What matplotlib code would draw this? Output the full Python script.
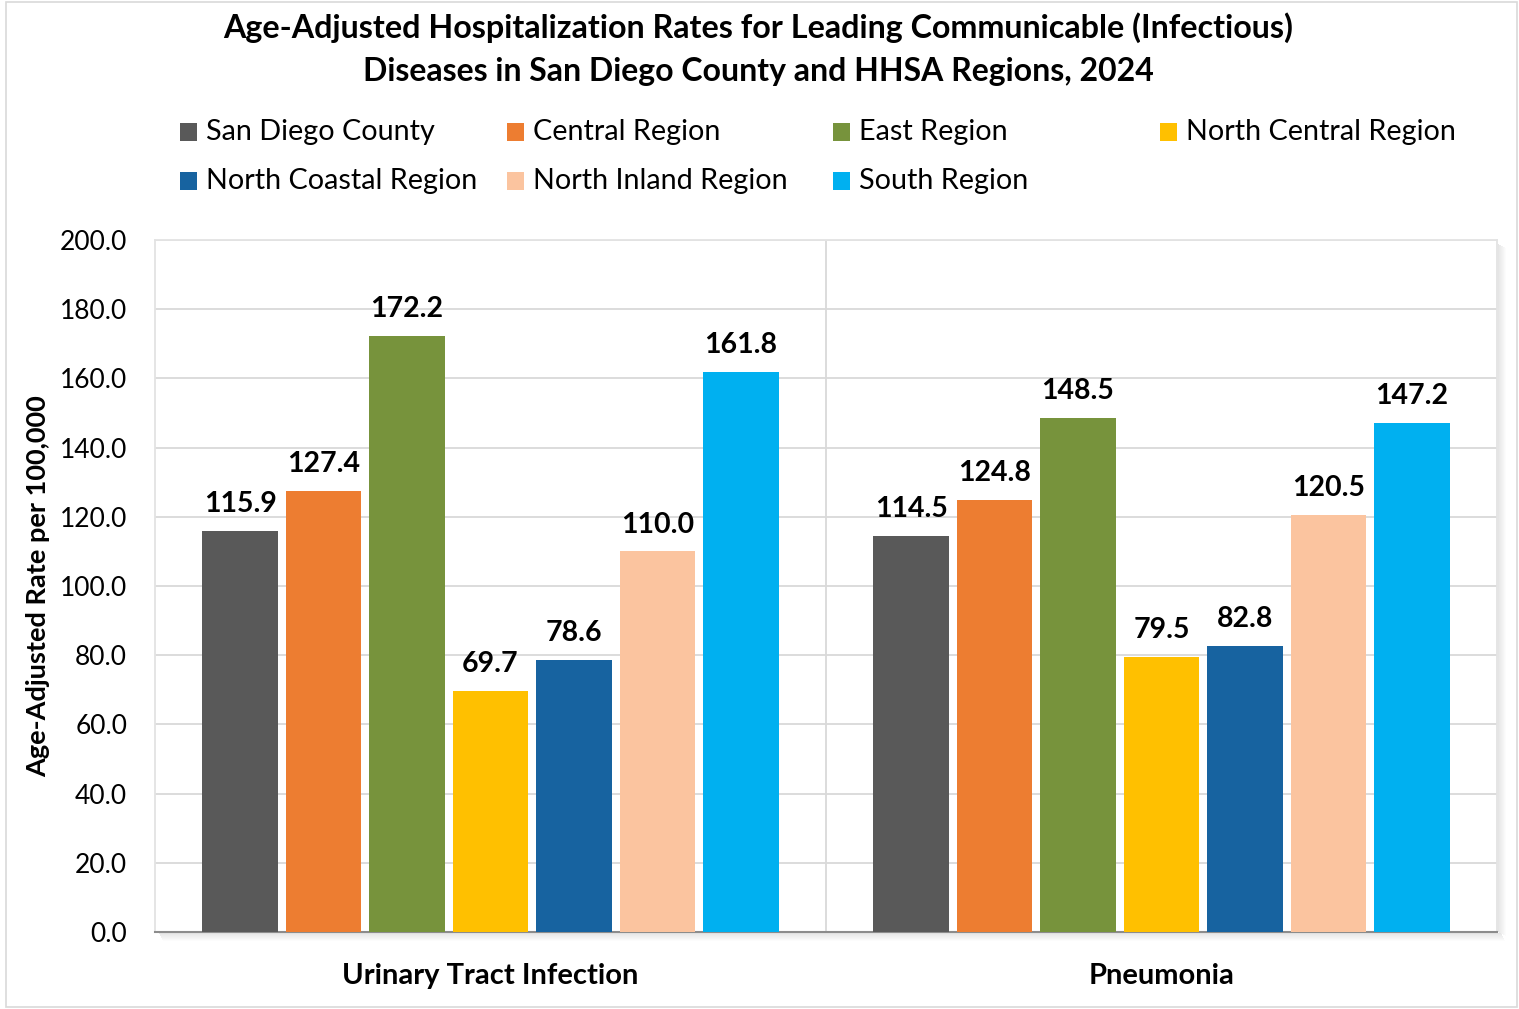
import matplotlib
matplotlib.use("Agg")
import matplotlib.pyplot as plt
import numpy as np
from matplotlib.patches import Rectangle

categories = ["Urinary Tract Infection", "Pneumonia"]
series = ["San Diego County", "Central Region", "East Region", "North Central Region",
          "North Coastal Region", "North Inland Region", "South Region"]
values = {
    "San Diego County": [115.9, 114.5],
    "Central Region": [127.4, 124.8],
    "East Region": [172.2, 148.5],
    "North Central Region": [69.7, 79.5],
    "North Coastal Region": [78.6, 82.8],
    "North Inland Region": [110.0, 120.5],
    "South Region": [161.8, 147.2],
}
colors = ["#595959", "#ED7D31", "#77933C", "#FFC000", "#1763A0", "#FBC49F", "#00B0F0"]
yticks = [0, 20, 40, 60, 80, 100, 120, 140, 160, 180, 200]

plt.rcParams['font.family'] = ['Lato', 'DejaVu Sans']

W, H = 1519, 1009
fig = plt.figure(figsize=(W / 100, H / 100), dpi=100)

# outer border
fig.patches.append(Rectangle((6.5 / W, 2 / H), (W - 9) / W, (H - 4) / H, transform=fig.transFigure,
                             fill=False, edgecolor="#d9d9d9", linewidth=1.2))

L, R, T, B = 155, 1497, 240, 932
ax = fig.add_axes([L / W, 1 - B / H, (R - L) / W, (B - T) / H])

# shadow of plot area
for i in range(8):
    a = 0.10 * (1 - i / 8)
    fig.patches.append(Rectangle(((L + 4 + i * 0.5) / W, 1 - (B + 2 + i) / H), (R - L) / W, 1.2 / H,
                                 transform=fig.transFigure, color="black", alpha=a, lw=0, zorder=0))
    fig.patches.append(Rectangle(((R + 1 + i) / W, 1 - (B + i * 0.5) / H), 1.2 / W, (B - T - 4) / H,
                                 transform=fig.transFigure, color="black", alpha=a, lw=0, zorder=0))

n = len(series)
step = 0.1244
width = 0.113
x = np.arange(len(categories))
for i, (s, c) in enumerate(zip(series, colors)):
    pos = x + (i - (n - 1) / 2) * step
    vals = values[s]
    ax.bar(pos, vals, width=width, color=c, zorder=3)
    for p, v in zip(pos, vals):
        ax.annotate(f"{v:.1f}", (p, v), xytext=(0, 10), textcoords="offset points",
                    ha="center", va="bottom", fontsize=20.5, fontweight="bold", zorder=4)

ax.set_xlim(-0.5, len(categories) - 0.5)
ax.set_ylim(0, 200)
ax.set_yticks(yticks)
ax.set_yticklabels([f"{t:.1f}" for t in yticks], fontsize=19)
ax.yaxis.grid(True, color="#d9d9d9", linewidth=1.3, zorder=0)
ax.set_axisbelow(True)
ax.axvline(0.5, color="#d9d9d9", linewidth=1.3, zorder=1)
ax.set_xticks(x)
ax.set_xticklabels(categories, fontsize=21, fontweight="bold")
ax.tick_params(axis="x", length=0, pad=22)
ax.tick_params(axis="y", length=0, pad=20)
for sp in ["left", "top", "right"]:
    ax.spines[sp].set_color("#e3e3e3")
    ax.spines[sp].set_linewidth(1.3)
ax.spines["bottom"].set_color("#8c8c8c")
ax.spines["bottom"].set_linewidth(1.5)
ax.set_ylabel("Age-Adjusted Rate per 100,000", fontsize=19.5, fontweight="bold", labelpad=7)

fig.text(758 / W, 1 - 28 / H, "Age-Adjusted Hospitalization Rates for Leading Communicable (Infectious)",
         ha="center", va="center", fontsize=23.2, fontweight="bold")
fig.text(758 / W, 1 - 71 / H, "Diseases in San Diego County and HHSA Regions, 2024",
         ha="center", va="center", fontsize=23.0, fontweight="bold")

# legend
colx = [180, 507, 833, 1160]
rowy = [132, 181]
for i, (s, c) in enumerate(zip(series, colors)):
    r, col = divmod(i, 4)
    xm, ym = colx[col], rowy[r]
    fig.patches.append(Rectangle((xm / W, 1 - (ym + 8.5) / H), 17 / W, 17 / H,
                                 transform=fig.transFigure, color=c, lw=0))
    fig.text((xm + 26) / W, 1 - ym / H, s, ha="left", va="center", fontsize=20.7)

fig.savefig("out.png", dpi=100)
